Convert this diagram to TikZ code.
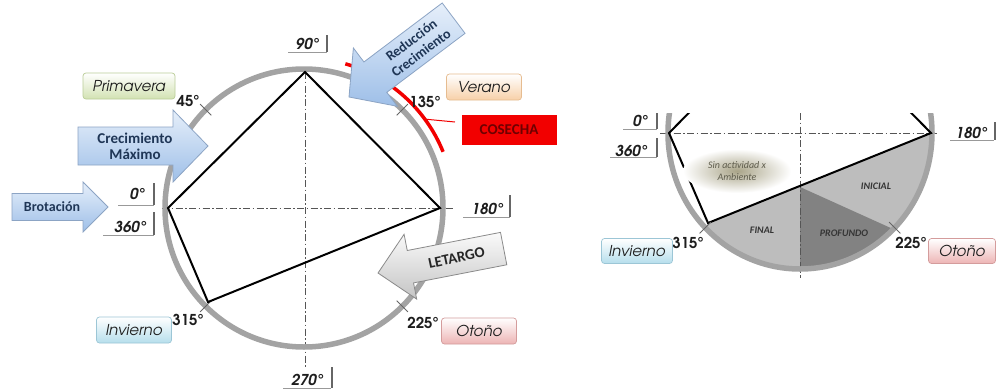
\documentclass[tikz,border=0pt]{standalone}
\usepackage{fontspec}
\usetikzlibrary{calc}
\setmainfont{Carlito}
\newfontfamily\gothic{texgyreadventor}[Extension=.otf,UprightFont=*-regular,BoldFont=*-bold,ItalicFont=*-italic,BoldItalicFont=*-bolditalic]
\definecolor{ringgray}{HTML}{A3A3A3}
\definecolor{axisgray}{HTML}{555555}
\definecolor{txt}{HTML}{1E1E1E}
\definecolor{navy}{HTML}{1F3656}
\definecolor{blueA}{HTML}{E6EFFA}
\definecolor{blueB}{HTML}{9EBFE8}
\definecolor{blueD}{HTML}{8CA4C4}
\definecolor{grayA}{HTML}{FAFAFA}
\definecolor{grayB}{HTML}{C4C4C4}
\definecolor{grayD}{HTML}{8A8A8A}
\definecolor{greenB}{HTML}{D2E2B2}
\definecolor{greenD}{HTML}{BACD98}
\definecolor{orangeB}{HTML}{F7D0A8}
\definecolor{orangeD}{HTML}{E6BC90}
\definecolor{cyanB}{HTML}{B6DEEC}
\definecolor{cyanD}{HTML}{9CC6D6}
\definecolor{pinkB}{HTML}{EDB4B4}
\definecolor{pinkD}{HTML}{D49C9C}
\definecolor{cosred}{HTML}{F20000}
\definecolor{cosdark}{HTML}{6E0000}
\definecolor{lgray}{HTML}{BDBDBD}
\definecolor{dgray}{HTML}{828282}
\definecolor{blob}{HTML}{A9A488}
\definecolor{blobtxt}{HTML}{5E5C4C}
\newcommand\BlockArrow[4]{(-#1,#3/2) -- (-#2,#3/2) -- (-#2,#4/2) -- (0,0) -- (-#2,-#4/2) -- (-#2,-#3/2) -- (-#1,-#3/2) -- cycle}
\tikzset{
  ring/.style={draw=ringgray, line width=5.5pt},
  axisline/.style={draw=axisgray, line width=0.8pt, dash pattern=on 7pt off 2.5pt on 1.5pt off 2.5pt},
  poly/.style={draw=black, line width=2pt, line join=miter},
  tickmark/.style={draw=black!60, line width=0.8pt},
  deglab/.style={font=\gothic\bfseries\itshape\fontsize{15}{15}\selectfont, text=txt, inner sep=0pt},
  degplain/.style={font=\gothic\bfseries\fontsize{15}{15}\selectfont, text=txt, inner sep=0pt},
  underline/.style={draw=black!40, line width=0.9pt},
  sidebar/.style={draw=black!60, line width=1.2pt},
  season/.style 2 args={draw=#1, line width=0.7pt, rounded corners=3pt, top color=white, bottom color=#2,
    font=\gothic\itshape\fontsize{15}{15}\selectfont, text=txt, minimum height=26pt, inner sep=0pt},
  bluearrow/.style={draw=blueD, line width=0.8pt, top color=blueA, bottom color=blueB},
  grayarrow/.style={draw=grayD, line width=0.8pt, top color=grayA, bottom color=grayB},
  arrowtext/.style={font=\bfseries\fontsize{14}{15}\selectfont, text=navy, align=center, inner sep=0pt},
  smalllab/.style={font=\bfseries\itshape\fontsize{10}{10}\selectfont, text=txt!90, inner sep=0pt},
}
\begin{document}
\begin{tikzpicture}[x=1pt,y=-1pt]
\useasboundingbox (0,0) rectangle (997,389);
\fill[white] (0,0) rectangle (997,389);

% ================= LEFT DIAGRAM =================
\coordinate (c) at (304,208);
% axes
\draw[axisline] (162,208) -- (455,208);
\draw[axisline] (305,72) -- (305,367);
% ring
\draw[ring] (c) circle[radius=139];
% red harvest arc
\draw[cosred, line width=3.5pt] (c) ++(-74:150) arc[start angle=-74, end angle=-22, radius=150];
\coordinate (cA) at ($(c)+(-36:151)$);
% ticks
\foreach \a in {-135,-45,45,135} \draw[tickmark] ($(c)+(\a:131)$) -- ($(c)+(\a:147)$);
% polygon
\coordinate (p0) at (168,208);
\coordinate (p90) at (305,72);
\coordinate (p180) at (440,208);
\coordinate (p315) at (208,302);
\draw[poly] (p0) -- (p90) -- (p180) -- (p315) -- cycle;

% degree labels
\node[deglab] (d90) at (307,44) {90°};
\draw[underline] (288,52) -- (327,52); \draw[sidebar] (327,35) -- (327,52);
\node[deglab] (d0) at (137,194) {0°};
\draw[underline] (118,205) -- (154,205); \draw[sidebar] (154,183) -- (154,205);
\node[deglab] (d360) at (130,227) {360°};
\draw[underline] (103,235) -- (154,235); \draw[sidebar] (154,212) -- (154,235);
\node[deglab] (d180) at (487,209) {180°};
\draw[underline] (463,217) -- (510,217); \draw[sidebar] (510,195) -- (510,217);
\node[deglab] (d270) at (307,380) {270°};
\draw[underline] (283,388) -- (331,388); \draw[sidebar] (332,367) -- (332,388);
\node[degplain] (d45) at (188,101) {45°};
\node[degplain] (d135) at (425,102) {135°};
\node[degplain] (d225) at (423,323) {225°};
\node[degplain] (d315) at (188,320) {315°};

% season boxes
\node[season={greenD}{greenB}, minimum width=92pt] (prim) at (129,86) {Primavera};
\node[season={orangeD}{orangeB}, minimum width=75pt] (ver) at (484,87) {Verano};
\node[season={cyanD}{cyanB}, minimum width=75pt] (inv) at (134,330) {Invierno};
\node[season={pinkD}{pinkB}, minimum width=75pt] (oto) at (479,331) {Otoño};

% COSECHA
\node[fill=cosred, minimum width=95pt, minimum height=30pt, inner sep=0pt,
      font=\bfseries\fontsize{15}{15}\selectfont, text=cosdark] (cos) at (509,130) {COSECHA};
\coordinate (cL) at (455,122);
\draw[cosred, line width=1pt] (cA) -- (cL);

% arrows
\begin{scope}[shift={(108,207)}]
  \path[bluearrow] \BlockArrow{96}{25}{27}{50};
  \node[arrowtext] (brot) at (-56,0) {Brotación};
\end{scope}
\begin{scope}[shift={(208,146)}]
  \path[bluearrow] \BlockArrow{130}{35}{38}{72};
  \node[arrowtext, font=\bfseries\fontsize{15}{16}\selectfont] (crec) at (-73,0) {Crecimiento\\Máximo};
\end{scope}
\begin{scope}[shift={(349,97)}, rotate=217]
  \path[bluearrow] \BlockArrow{131}{33}{38}{73};
  \node[arrowtext, font=\bfseries\fontsize{14}{16}\selectfont, rotate=37] (red) at (-84,0) {Reducción\\Crecimiento};
\end{scope}
\begin{scope}[shift={(378,273)}, rotate=191]
  \path[grayarrow] \BlockArrow{128}{33}{33}{66};
  \node[arrowtext, font=\bfseries\fontsize{15}{15}\selectfont, text=black!85, rotate=12] (let) at (-80,0) {LETARGO};
\end{scope}

% ================= RIGHT DIAGRAM =================
\coordinate (r) at (800,133);
\begin{scope}
  \clip (600,113) rectangle (997,300);
  \fill[lgray] (708,223) -- (932,133) arc[start angle=0, end angle=135, x radius=132, y radius=136] -- cycle;
  \fill[dgray] (800,187) -- (800,269) arc[start angle=90, end angle=45, x radius=132, y radius=136] -- cycle;
  \draw[axisline] (660,133) -- (937,133);
  \draw[axisline] (800,113) -- (800,278);
  \draw[ring] (r) ellipse[x radius=132, y radius=136];
  \coordinate (q0) at (669,133);
  \coordinate (q90) at (800,0);
  \coordinate (q180) at (931,133);
  \coordinate (q315) at (708,223);
  \draw[poly] (q0) -- (q90) -- (q180) -- (q315) -- cycle;
\end{scope}
\draw[tickmark] ($(r)+(45:126)$) -- ($(r)+(45:142)$);
\draw[tickmark] ($(r)+(135:126)$) -- ($(r)+(135:142)$);
\shade[inner color=blob, outer color=white] (737,171) ellipse[x radius=54, y radius=22];
\node[font=\itshape\fontsize{10}{12}\selectfont, text=blobtxt, align=center, inner sep=0pt] (sin) at (737,171) {Sin actividad x\\Ambiente};
\node[smalllab] (ini) at (876,186) {INICIAL};
\node[smalllab] (fin) at (762,230) {FINAL};
\node[smalllab] (pro) at (844,233) {PROFUNDO};

\node[deglab] (e0) at (640,121) {0°};
\draw[underline] (623,129) -- (657,129); \draw[sidebar] (657,113) -- (657,129);
\node[deglab] (e360) at (631,151) {360°};
\draw[underline] (610,157) -- (657,157); \draw[sidebar] (657,138) -- (657,157);
\node[deglab] (e180) at (971,133) {180°};
\draw[underline] (950,140) -- (994,140); \draw[sidebar] (995,122) -- (995,140);
\node[degplain] (e315) at (688,243) {315°};
\node[degplain] (e225) at (911,243) {225°};
\node[season={cyanD}{cyanB}, minimum width=71pt, minimum height=25pt] (inv2) at (637,251) {Invierno};
\node[season={pinkD}{pinkB}, minimum width=67pt, minimum height=25pt] (oto2) at (962,251) {Otoño};
\end{tikzpicture}
\end{document}
